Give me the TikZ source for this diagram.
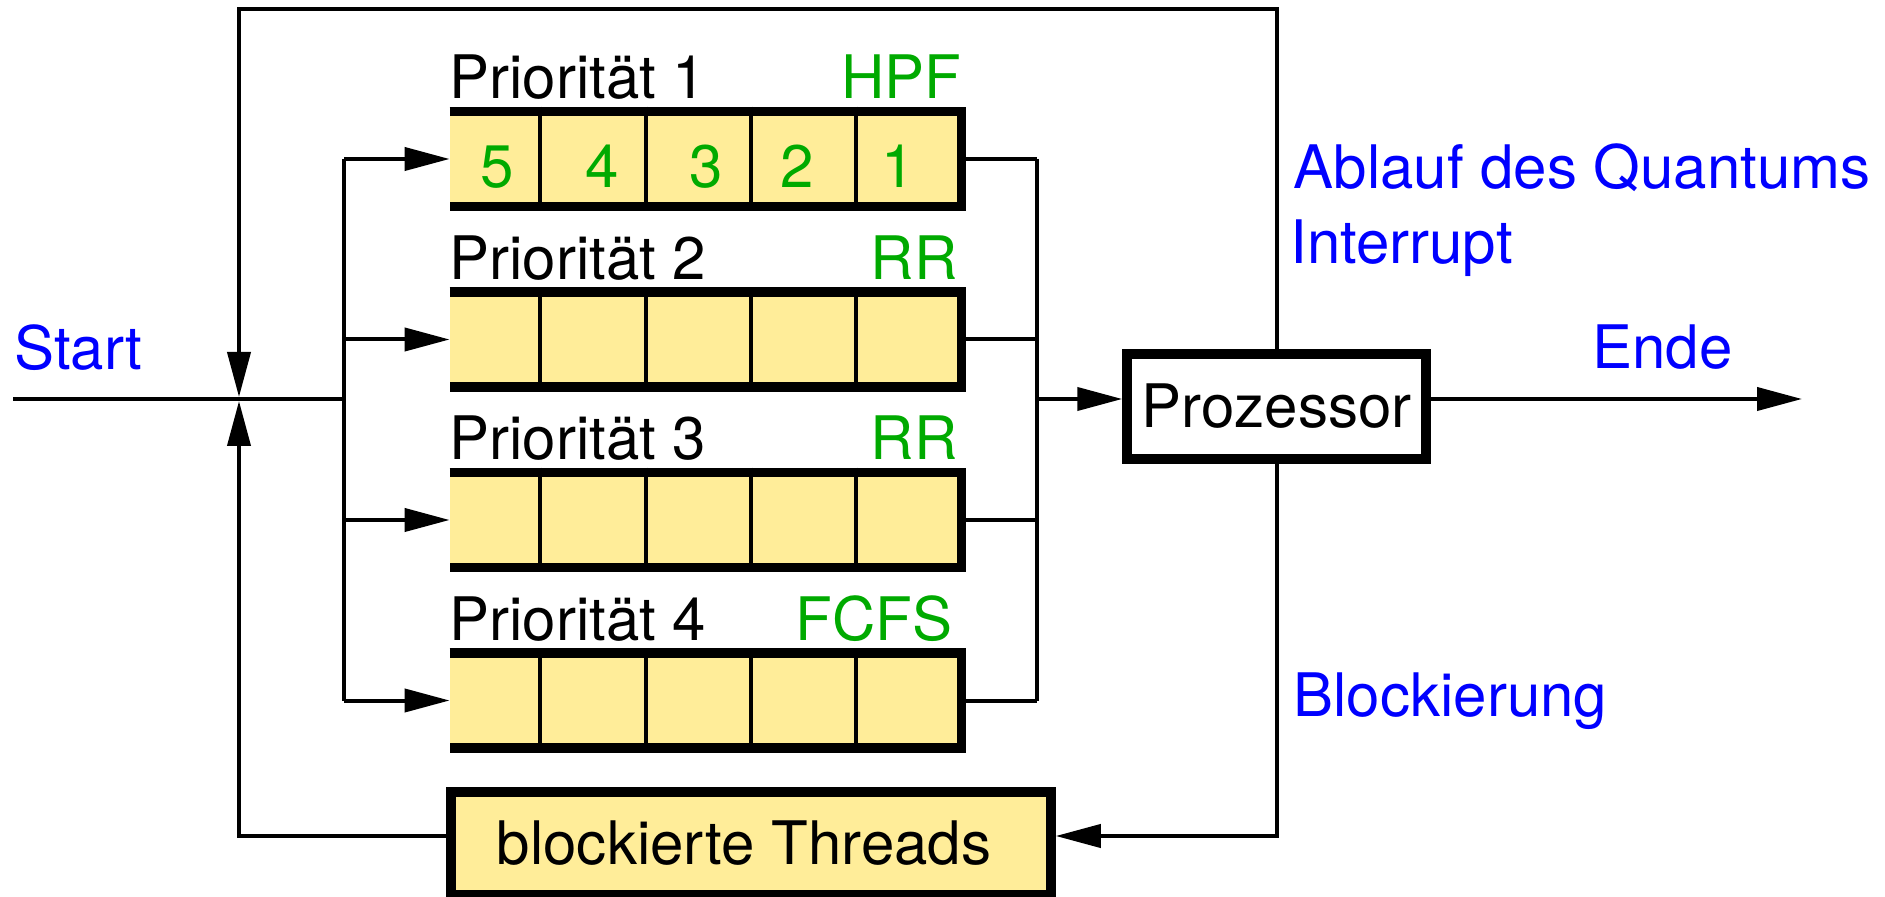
\documentclass[tikz,border=0pt]{standalone}
\usepackage{fontspec}
\setmainfont{TeX Gyre Heros}
\usetikzlibrary{arrows.meta}
\definecolor{qyellow}{RGB}{255,237,153}
\definecolor{qgreen}{RGB}{0,170,0}
\definecolor{qblue}{RGB}{0,0,255}
\tikzset{
  conn/.style={line width=2pt, line cap=butt},
  arr/.style={conn, -{Triangle[length=22.5pt,width=11.5pt]}},
  qborder/.style={line width=4.75pt, line join=miter},
  queue/.style={rectangle, fill=qyellow, inner sep=0pt, minimum width=258pt, minimum height=52pt},
  boxnode/.style={rectangle, draw=black, line width=4.75pt, inner sep=0pt},
  lbl/.style={inner sep=0pt, font=\fontsize{30}{36}\selectfont},
}
\begin{document}
\begin{tikzpicture}[x=0.5pt,y=-0.5pt]
\useasboundingbox (0,0) rectangle (1885,897);

% queues
\foreach \i/\c in {1/159,2/339.5,3/520,4/700.5}{
  \node[queue] (q\i) at (708,\c) {};
  \foreach \dx in {45pt,98pt,150.5pt,203pt}
    \draw[conn] ([xshift=\dx]q\i.north west) -- ([xshift=\dx]q\i.south west);
  \draw[qborder] ([yshift=-2.375pt]q\i.north west) -- ([xshift=-2.375pt,yshift=-2.375pt]q\i.north east)
     -- ([xshift=-2.375pt,yshift=2.375pt]q\i.south east) -- ([yshift=2.375pt]q\i.south west);
  \node[lbl, anchor=base west] (pl\i) at ({449},{\c-60}) {Priorität \i};
  \coordinate (d\i) at (344,\c);
  \coordinate (c\i) at (1037,\c);
  \draw[arr] (d\i) -- (q\i.west);
  \draw[conn] (q\i.east) -- (c\i);
}

% queue labels
\node[lbl, anchor=base east, text=qgreen] (hpf) at (962,99) {HPF};
\node[lbl, anchor=base east, text=qgreen] (rr2) at (958,279.5) {RR};
\node[lbl, anchor=base east, text=qgreen] (rr3) at (958,460) {RR};
\node[lbl, anchor=base east, text=qgreen] (fcfs) at (953,640.5) {FCFS};

% numbers in queue 1
\node[lbl, anchor=base, text=qgreen] (n5) at (497,188) {5};
\node[lbl, anchor=base, text=qgreen] (n4) at (602,188) {4};
\node[lbl, anchor=base, text=qgreen] (n3) at (706,188) {3};
\node[lbl, anchor=base, text=qgreen] (n2) at (797,188) {2};
\node[lbl, anchor=base, text=qgreen] (n1) at (898,188) {1};

% processor and blocked box
\node[boxnode, fill=white, minimum width=149.5pt, minimum height=52.5pt, lbl] (P) at (1276.5,406.5) {Prozessor};
\node[boxnode, fill=qyellow, minimum width=300pt, minimum height=51.5pt, lbl] (B) at (751,843.5) {blockierte Threads\kern7pt};

% coordinates
\coordinate (startpt) at (13,399);
\coordinate (J) at (239,399);
\coordinate (d0) at (344,399);
\coordinate (cm) at (1037,399);
\coordinate (topL) at (239,9);
\coordinate (endpt) at (1802,399);

% main lines
\draw[conn] (startpt) -- (d0);
\draw[conn] (d1) -- (d4);
\draw[conn] (c1) -- (c4);
\draw[arr] (cm) -- (cm -| P.west);
\draw[arr] (cm -| P.east) -- (endpt);

% feedback loops
\draw[arr, shorten >=1pt, line join=miter] (P.north) |- (topL) -- (J);
\draw[arr, line join=miter] (P.south) |- ([yshift=3.75pt]B.east);
\draw[arr, shorten >=1pt, line join=miter] ([yshift=3.75pt]B.west) -| (J);

% blue labels
\node[lbl, anchor=base west, text=qblue] (start) at (14,370) {Start};
\node[lbl, anchor=base west, text=qblue] (ablauf) at (1293,189) {Ablauf des Quantums};
\node[lbl, anchor=base west, text=qblue] (intr) at (1290,264) {Interrupt};
\node[lbl, anchor=base west, text=qblue] (ende) at (1592,369) {Ende};
\node[lbl, anchor=base west, text=qblue] (block) at (1293,716) {Blockierung};
\end{tikzpicture}
\end{document}
